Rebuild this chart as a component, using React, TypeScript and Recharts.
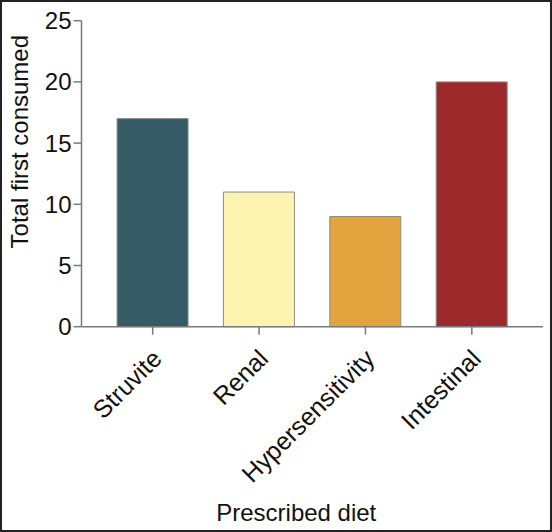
import { BarChart, Bar, XAxis, YAxis, Cell } from 'recharts'

const diets = ['Struvite', 'Renal', 'Hypersensitivity', 'Intestinal']
const totals = [17, 11, 9, 20]
const barColors = ['#345b66', '#fdf4b1', '#e3a33f', '#9d292b']
const yTicks = [0, 5, 10, 15, 20, 25]

const data = diets.map((d, i) => ({ diet: d, total: totals[i] }))

const FONT = '"Liberation Sans", Arial, Helvetica, sans-serif'
const AXIS = '#7a7a7a'

const AngledTick = ({ x, y, payload }: any) => (
  <g transform={`translate(${x - 2},${y + 11})`}>
    <text
      x={0}
      y={0}
      dy="0.71em"
      textAnchor="end"
      transform="rotate(-45)"
      fontSize={25}
      fontFamily={FONT}
      fill="#111"
    >
      {payload.value}
    </text>
  </g>
)

export default function App() {
  return (
    <div
      style={{
        width: 552,
        height: 532,
        boxSizing: 'border-box',
        border: '2px solid #222',
        background: '#fff',
        position: 'absolute',
        left: 0,
        top: 0,
      }}
    >
      <BarChart
        width={548}
        height={528}
        data={data}
        margin={{ top: 18.7, right: 7, bottom: 3.3, left: 4.5 }}
        barCategoryGap="16.5%"
      >
        <XAxis
          dataKey="diet"
          height={200}
          padding={{ left: 18, right: 18 }}
          stroke={AXIS}
          strokeWidth={1.5}
          tickSize={8}
          tick={<AngledTick />}
          interval={0}
          label={{
            value: 'Prescribed diet',
            position: 'insideBottom',
            offset: 6,
            dx: -16,
            fontSize: 24,
            fontFamily: FONT,
            fill: '#111',
          }}
        />
        <YAxis
          width={75}
          domain={[0, 25]}
          ticks={yTicks}
          interval={0}
          stroke={AXIS}
          strokeWidth={1.5}
          tickSize={8}
          tick={{ fontSize: 24, fontFamily: FONT, fill: '#111' }}
          label={{
            content: ({ viewBox }: any) => {
              const cx = viewBox.x + 13.5
              const cy = viewBox.y + viewBox.height / 2 - 32
              return (
                <text
                  x={cx}
                  y={cy}
                  transform={`rotate(-90, ${cx}, ${cy})`}
                  textAnchor="middle"
                  dominantBaseline="central"
                  fontSize={24}
                  fontFamily={FONT}
                  fill="#111"
                >
                  Total first consumed
                </text>
              )
            },
          }}
        />
        <Bar dataKey="total" stroke="#8c8c8c" strokeWidth={1} isAnimationActive={false}>
          {data.map((_, i) => (
            <Cell key={i} fill={barColors[i]} />
          ))}
        </Bar>
      </BarChart>
    </div>
  )
}
